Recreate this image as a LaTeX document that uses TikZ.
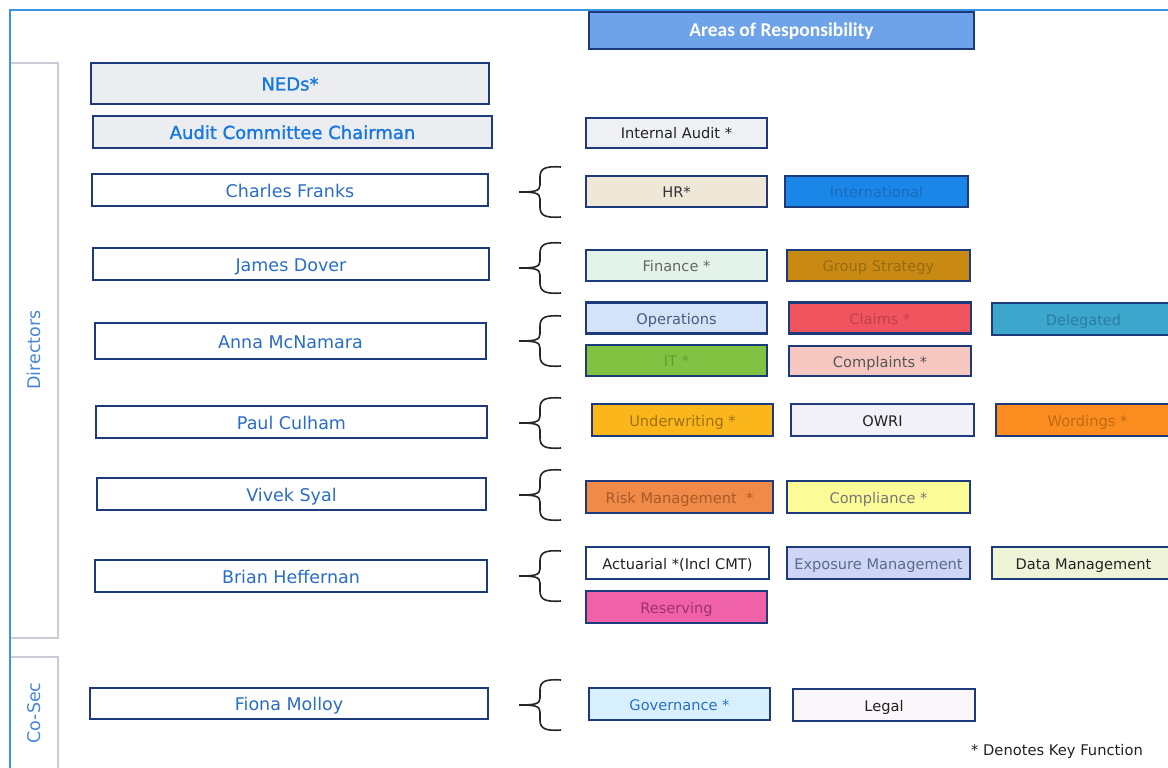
\documentclass[tikz,border=0pt]{standalone}
\usepackage{fontspec}
\setmainfont{DejaVu Sans}
\newfontfamily\areafont{Carlito}
\newfontfamily\semib[FakeBold=1.2]{DejaVu Sans}
\definecolor{bordc}{HTML}{1D3A7A}
\definecolor{framec}{HTML}{3A94E0}
\definecolor{tabc}{HTML}{C8CCD4}
\definecolor{namec}{HTML}{2A6DC4}
\definecolor{nedc}{HTML}{1677E0}
\definecolor{nedfill}{HTML}{EBEDF1}
\definecolor{areafill}{HTML}{6EA3EA}
\definecolor{sidec}{HTML}{4A86D6}
\definecolor{dk}{HTML}{222222}
\definecolor{iaf}{HTML}{EEF0F4}
\definecolor{hrf}{HTML}{EFE8D8}\definecolor{hrt}{HTML}{333333}
\definecolor{intf}{HTML}{1A86E8}\definecolor{intt}{HTML}{1A6CC0}
\definecolor{finf}{HTML}{E4F3EA}\definecolor{fint}{HTML}{666666}
\definecolor{gsf}{HTML}{C88A12}\definecolor{gst}{HTML}{9A6A10}
\definecolor{opsf}{HTML}{D4E3F8}\definecolor{opst}{HTML}{4A5A80}
\definecolor{clmf}{HTML}{F0555F}\definecolor{clmt}{HTML}{C0404A}
\definecolor{delf}{HTML}{3CA6CC}\definecolor{delt}{HTML}{2A7FA0}
\definecolor{itf}{HTML}{82C243}\definecolor{itt}{HTML}{5E9E32}
\definecolor{cmpf}{HTML}{F7C8C2}\definecolor{cmpt}{HTML}{555555}
\definecolor{uwf}{HTML}{FBB61C}\definecolor{uwt}{HTML}{A07010}
\definecolor{owf}{HTML}{F2F0F8}
\definecolor{wdf}{HTML}{FB8C20}\definecolor{wdt}{HTML}{C06A10}
\definecolor{rkf}{HTML}{F08A48}\definecolor{rkt}{HTML}{A85A28}
\definecolor{cof}{HTML}{FBFB98}\definecolor{cot}{HTML}{777777}
\definecolor{exf}{HTML}{CFD5F5}\definecolor{ext}{HTML}{5A6A90}
\definecolor{daf}{HTML}{EFF3D8}
\definecolor{ref}{HTML}{F062A8}\definecolor{ret}{HTML}{A03070}
\definecolor{gof}{HTML}{D8F0FD}
\definecolor{lgf}{HTML}{FAF6FA}
\tikzset{
  namebox/.style={draw=bordc, line width=2.8pt, fill=white, text=namec, inner sep=0pt,
    minimum height=32pt, font=\fontsize{17.5}{20}\selectfont,
    text height=14pt, text depth=0pt},
  nedbox/.style={namebox, fill=nedfill, text=nedc, font=\semib\fontsize{18}{20}\selectfont},
  rbox/.style={draw=bordc, line width=2.6pt, inner sep=0pt, minimum width=181pt,
    minimum height=31pt, font=\fontsize{14.6}{16}\selectfont,
    text height=12pt, text depth=0pt},
  sidelabel/.style={rotate=90, text=sidec, font=\fontsize{17.5}{20}\selectfont},
  bracec/.style={line width=1.6pt, black!85}
}
\newcommand\curlyb[1]{%
  \draw[bracec] (561,#1-25) .. controls (546,#1-26) and (540,#1-24) .. (540,#1-15)
    -- (540,#1-7) .. controls (540,#1-1) and (535,#1) .. (519,#1)
    .. controls (535,#1) and (540,#1+1) .. (540,#1+7)
    -- (540,#1+15) .. controls (540,#1+24) and (546,#1+26) .. (561,#1+25);}
\begin{document}
\begin{tikzpicture}[x=1pt,y=-1pt]
\useasboundingbox (0,0) rectangle (1168,768);
\clip (0,0) rectangle (1168,768);
\fill[white] (0,0) rectangle (1168,768);
% frame
\draw[framec, line width=2pt] (10,768) -- (10,10) -- (1175,10);
% side tabs
\draw[tabc, line width=1.2pt] (11,63) -- (58,63) -- (58,638) -- (11,638);
\draw[tabc, line width=1.2pt] (11,657) -- (58,657) -- (58,770);
\node[sidelabel] (dirl) at (34,350) {Directors};
\node[sidelabel] (cosl) at (34,713) {Co-Sec};
% header
\node[draw=bordc, line width=2.6pt, fill=areafill, text=white, minimum width=385pt,
  minimum height=37pt, inner sep=0pt, text height=13pt, text depth=0pt,
  font=\areafont\bfseries\fontsize{19.5}{21}\selectfont]
  (areas) at (781.5,30.5) {Areas of Responsibility};
% left column
\node[nedbox, minimum width=398pt, minimum height=41pt] (neds) at (290,83.5) {NEDs*};
\node[nedbox, minimum width=399pt] (aud) at (292.5,132) {Audit Committee Chairman};
\node[namebox, minimum width=396pt] (cf) at (290,190) {Charles Franks};
\node[namebox, minimum width=396pt] (jd) at (291,264) {James Dover};
\node[namebox, minimum width=391pt, minimum height=36pt] (am) at (290.5,341) {Anna McNamara};
\node[namebox, minimum width=391pt] (pc) at (291.5,422) {Paul Culham};
\node[namebox, minimum width=389pt] (vs) at (291.5,494) {Vivek Syal};
\node[namebox, minimum width=392pt] (bh) at (291,576) {Brian Heffernan};
\node[namebox, minimum width=398pt, minimum height=31pt] (fm) at (289,703.5) {Fiona Molloy};
% braces
\curlyb{192}
\curlyb{268}
\curlyb{341}
\curlyb{423}
\curlyb{495}
\curlyb{576}
\curlyb{705}
% right boxes
\node[rbox, fill=iaf, text=dk, minimum height=30pt] (ia) at (676.5,133) {Internal Audit *};
\node[rbox, fill=hrf, text=hrt] (hr) at (676.5,191.5) {HR*};
\node[rbox, fill=intf, text=intt, minimum width=183pt] (intl) at (876.5,191.5) {International};
\node[rbox, fill=finf, text=fint] (fin) at (676.5,265.5) {Finance *};
\node[rbox, fill=gsf, text=gst, minimum width=183pt] (gs) at (878.5,265.5) {Group Strategy};
\node[rbox, fill=opsf, text=opst] (ops) at (676.5,318) {Operations};
\node[rbox, fill=clmf, text=clmt, minimum width=182pt] (clm) at (880,318) {Claims *};
\node[rbox, fill=delf, text=delt, minimum width=183pt, minimum height=32pt] (del) at (1083.5,319) {Delegated};
\node[rbox, fill=itf, text=itt] (it) at (676.5,360.5) {IT *};
\node[rbox, fill=cmpf, text=cmpt, minimum width=182pt, minimum height=30pt] (cmp) at (880,361) {Complaints *};
\node[rbox, fill=uwf, text=uwt, minimum height=32pt] (uw) at (682.5,420) {Underwriting *};
\node[rbox, fill=owf, text=dk, minimum width=183pt, minimum height=32pt] (owri) at (882.5,420) {OWRI};
\node[rbox, fill=wdf, text=wdt, minimum width=183pt, minimum height=32pt] (wd) at (1087.5,420) {Wordings *};
\node[rbox, fill=rkf, text=rkt, minimum width=187pt, minimum height=32pt] (risk) at (679.5,497) {Risk Management~~*};
\node[rbox, fill=cof, text=cot, minimum width=183pt, minimum height=32pt] (comp) at (878.5,497) {Compliance *};
\node[rbox, fill=white, text=dk, minimum width=183pt, minimum height=32pt] (act) at (677.5,563) {Actuarial *(Incl CMT)};
\node[rbox, fill=exf, text=ext, minimum width=183pt, minimum height=32pt] (exp) at (878.5,563) {Exposure Management};
\node[rbox, fill=daf, text=dk, minimum width=183pt, minimum height=32pt] (data) at (1083.5,563) {Data Management};
\node[rbox, fill=ref, text=ret, minimum height=32pt] (res) at (676.5,607) {Reserving};
\node[rbox, fill=gof, text=namec, minimum height=32pt] (gov) at (679.5,704) {Governance *};
\node[rbox, fill=lgf, text=dk, minimum width=182pt, minimum height=32pt] (legal) at (884,705) {Legal};
% footnote
\node[font=\fontsize{14.7}{16}\selectfont, text=dk] (note) at (1057,751) {* Denotes Key Function};
\end{tikzpicture}
\end{document}
